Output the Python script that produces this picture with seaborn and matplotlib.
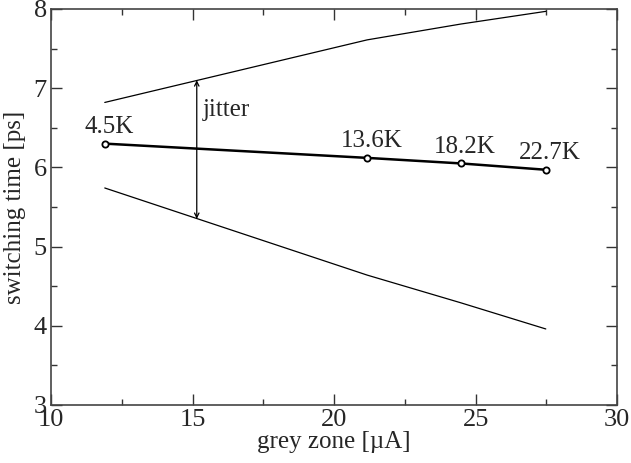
import pandas as pd
import matplotlib.pyplot as plt
import seaborn as sns

# data
grey_zone = [11.9, 21.17, 24.48, 27.48]
switching_time = [6.30, 6.12, 6.05, 5.97]
upper_bound = [6.82, 7.61, 7.81, 7.97]
lower_bound = [5.74, 4.64, 4.29, 3.96]
temp_labels = ['4.5K', '13.6K', '18.2K', '22.7K']

df = pd.DataFrame({'grey': grey_zone, 'time': switching_time,
                   'upper': upper_bound, 'lower': lower_bound})

sns.set_style("ticks")
plt.rcParams['font.family'] = ['Liberation Serif', 'DejaVu Serif']

fig = plt.figure(figsize=(6.31, 4.63), dpi=100)
ax = fig.add_axes([0.0808, 0.1253, 0.8972, 0.8553])

sns.lineplot(data=df, x='grey', y='upper', ax=ax, color='black', linewidth=0.9)
sns.lineplot(data=df, x='grey', y='lower', ax=ax, color='black', linewidth=0.9)
sns.lineplot(data=df, x='grey', y='time', ax=ax, color='black', linewidth=1.8,
             marker='o', markersize=4.5, markerfacecolor='white',
             markeredgecolor='black', markeredgewidth=1.3)

for x, y, lab in zip(grey_zone, switching_time, temp_labels):
    ax.annotate(lab, (x, y), xytext=(3, 4), textcoords='offset points',
                ha='center', va='bottom', fontsize=18)

# jitter arrow
ax.annotate('', xy=(15.15, 7.10), xytext=(15.15, 5.35),
            arrowprops=dict(arrowstyle='<->', color='black', lw=0.9,
                            mutation_scale=8, shrinkA=0, shrinkB=0))
ax.text(15.35, 6.72, 'jitter', fontsize=18, va='center', ha='left')

ax.set_xlim(10, 30)
ax.set_ylim(3, 8)
ax.set_xticks([10, 15, 20, 25, 30])
ax.set_yticks([3, 4, 5, 6, 7, 8])
ax.set_xticks([12.5, 17.5, 22.5, 27.5], minor=True)
ax.set_yticks([3.5, 4.5, 5.5, 6.5, 7.5], minor=True)
ax.tick_params(which='both', direction='in', top=True, right=True,
               labelsize=19, color='#333333')
ax.tick_params(axis='x', which='major', pad=3)
ax.tick_params(axis='y', which='major', pad=3)
ax.tick_params(which='major', length=8, width=1)
ax.tick_params(which='minor', length=4.5, width=1)
for s in ax.spines.values():
    s.set_visible(True)
    s.set_color('#444444')
    s.set_linewidth(1.2)

ax.set_xlabel('grey zone [µA]', fontsize=18)
ax.set_ylabel('switching time [ps]', fontsize=18)
ax.xaxis.set_label_coords(0.5, -0.066)
ax.yaxis.set_label_coords(-0.045, 0.5)

fig.savefig('out.png', dpi=100)
